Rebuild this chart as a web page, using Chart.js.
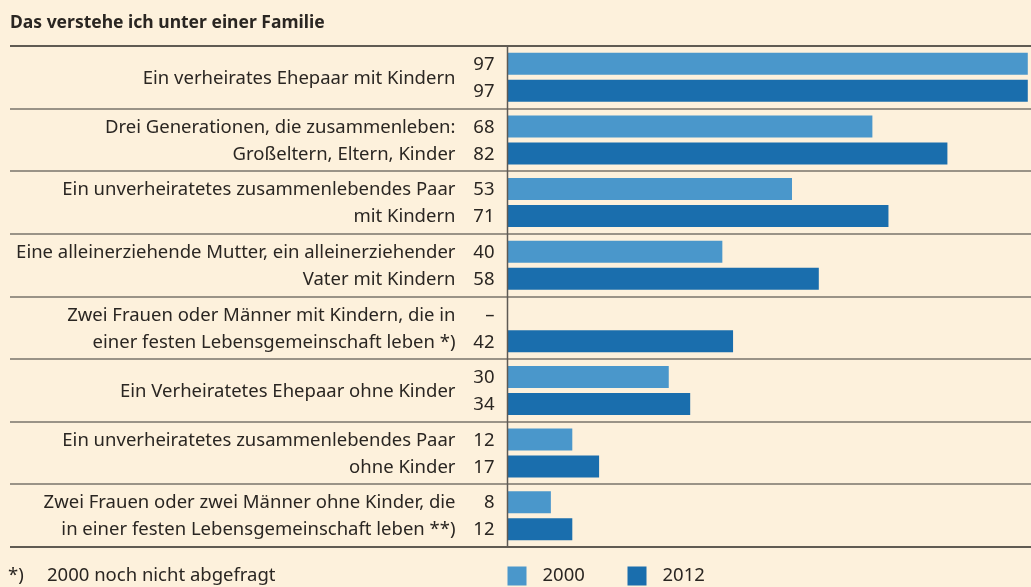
<!DOCTYPE html>
<html>
<head>
<meta charset="utf-8">
<script src="https://cdn.jsdelivr.net/npm/chart.js@4.4.1/dist/chart.umd.min.js"></script>
<style>
html,body{margin:0;padding:0;background:#fdf1dc;}
#wrap{position:relative;width:1031px;height:587px;overflow:hidden;background:#fdf1dc;}
#c{position:absolute;left:0;top:0;}
</style>
</head>
<body>
<div id="wrap"><canvas id="c" width="1031" height="587"></canvas></div>
<script>
// ---- data ----
const titleText = 'Das verstehe ich unter einer Familie';
const categories = [
  'Ein verheirates Ehepaar mit Kindern',
  ['Drei Generationen, die zusammenleben:', 'Großeltern, Eltern, Kinder'],
  ['Ein unverheiratetes zusammenlebendes Paar', 'mit Kindern'],
  ['Eine alleinerziehende Mutter, ein alleinerziehender', 'Vater mit Kindern'],
  ['Zwei Frauen oder Männer mit Kindern, die in', 'einer festen Lebensgemeinschaft leben *)'],
  'Ein Verheiratetes Ehepaar ohne Kinder',
  ['Ein unverheiratetes zusammenlebendes Paar', 'ohne Kinder'],
  ['Zwei Frauen oder zwei Männer ohne Kinder, die', 'in einer festen Lebensgemeinschaft leben **)']
];
const seriesNames = ['2000', '2012'];
const values2000 = [97, 68, 53, 40, null, 30, 12, 8];
const values2012 = [97, 82, 71, 58, 42, 34, 17, 12];
const missingMark = '–';
const footnote = ['*)', '2000 noch nicht abgefragt'];

// ---- style ----
const FONT = '"Noto Sans", "Open Sans", sans-serif';
const TEXT = '#2a2622';
const LIGHT = '#4a97cb';
const DARK = '#1a6ead';

const tablePlugin = {
  id: 'tablePlugin',
  afterDatasetsDraw(chart) {
    const { ctx, chartArea, scales } = chart;
    const x = scales.x, y = scales.y;
    const n = chart.data.labels.length;
    const step = y.getPixelForValue(1) - y.getPixelForValue(0);
    ctx.save();
    // horizontal rules
    for (let i = 0; i <= n; i++) {
      const yy = Math.round(y.getPixelForValue(i) - step / 2);
      const outer = (i === 0 || i === n);
      ctx.strokeStyle = outer ? '#2b2824' : '#78736b';
      ctx.lineWidth = 1.6;
      ctx.beginPath();
      ctx.moveTo(10, yy);
      ctx.lineTo(chartArea.right, yy);
      ctx.stroke();
    }
    // axis line
    const x0 = x.getPixelForValue(0) - 0.5;
    ctx.strokeStyle = '#5e5a54';
    ctx.lineWidth = 1.5;
    ctx.beginPath();
    ctx.moveTo(x0, chartArea.top);
    ctx.lineTo(x0, chartArea.bottom);
    ctx.stroke();

    ctx.fillStyle = TEXT;
    ctx.font = '18.5px ' + FONT;
    ctx.textBaseline = 'middle';
    const metas = chart.data.datasets.map((d, k) => chart.getDatasetMeta(k));
    const valueX = x0 - 13;
    const labelX = x0 - 52;
    for (let i = 0; i < n; i++) {
      const ys = metas.map(m => m.data[i].y);
      ctx.textAlign = 'right';
      chart.data.datasets.forEach((d, k) => {
        const v = d.data[i];
        ctx.fillText(v === null ? missingMark : String(v), valueX, ys[k] + 1);
      });
      const lab = chart.data.labels[i];
      if (Array.isArray(lab)) {
        lab.forEach((line, k) => ctx.fillText(line, labelX, ys[k] + 1));
      } else {
        ctx.fillText(lab, labelX, (ys[0] + ys[1]) / 2 + 1);
      }
    }
    // footnote + legend
    const fy = chartArea.bottom + 29;
    ctx.textAlign = 'left';
    ctx.fillText(footnote[0], 8, fy);
    ctx.fillText(footnote[1], 47, fy);
    chart.data.datasets.forEach((d, k) => {
      const sx = x0 + k * 120;
      ctx.fillStyle = d.backgroundColor;
      ctx.fillRect(sx, fy - 9.5, 19, 19);
      ctx.fillStyle = TEXT;
      ctx.fillText(d.label, sx + 35, fy);
    });
    ctx.restore();
  }
};

new Chart(document.getElementById('c'), {
  type: 'bar',
  data: {
    labels: categories,
    datasets: [
      { label: seriesNames[0], data: values2000, backgroundColor: LIGHT, categoryPercentage: 0.863, barPercentage: 0.815 },
      { label: seriesNames[1], data: values2012, backgroundColor: DARK, categoryPercentage: 0.863, barPercentage: 0.815 }
    ]
  },
  options: {
    indexAxis: 'y',
    responsive: false,
    animation: false,
    devicePixelRatio: 1,
    layout: { padding: { left: 10, right: 0, top: 0, bottom: 40 } },
    plugins: {
      legend: { display: false },
      tooltip: { enabled: false },
      title: {
        display: true, text: titleText, align: 'start', color: TEXT,
        font: { family: FONT, size: 17.5, weight: 'bold', lineHeight: 1.2 },
        padding: { top: 12.5, bottom: 12.5 }
      }
    },
    scales: {
      x: { display: false, min: 0, max: 97.6 },
      y: {
        display: true,
        grid: { display: false, drawTicks: false },
        border: { display: false },
        ticks: { display: false },
        afterFit(s) { s.width = 498; }
      }
    }
  },
  plugins: [tablePlugin]
});
</script>
</body>
</html>
